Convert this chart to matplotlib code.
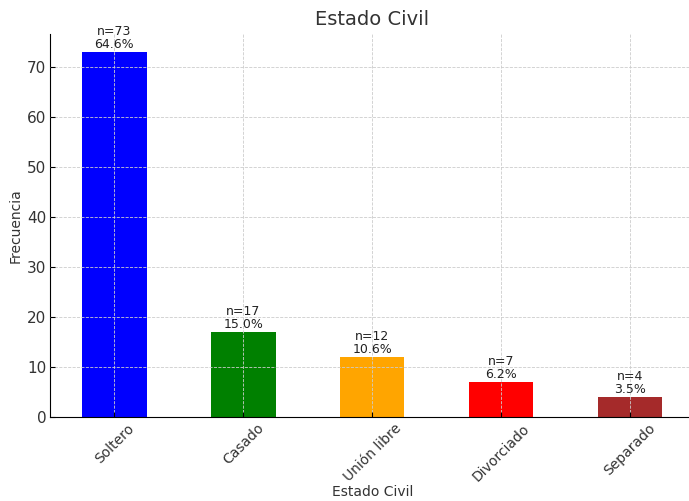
import matplotlib
matplotlib.use("Agg")
import matplotlib.pyplot as plt
import numpy as np

categorias = ['Soltero', 'Casado', 'Unión libre', 'Divorciado', 'Separado']
frecuencias = [73, 17, 12, 7, 4]
porcentajes = [64.6, 15.0, 10.6, 6.2, 3.5]
colores = ['blue', 'green', 'orange', 'red', 'brown']

fig = plt.figure(figsize=(6.89, 5.01), dpi=100)
ax = fig.add_axes([0.0725, 0.1677, 0.9355, 0.7649])

x = np.arange(len(categorias))
ax.bar(x, frecuencias, width=0.5, color=colores, zorder=2)
ax.set_xlim(-0.5, len(categorias) - 0.5)
ax.set_ylim(0, max(frecuencias) * 1.05)

for xi, n, p in zip(x, frecuencias, porcentajes):
    ax.text(xi, n + 0.2, f"n={n}\n{p:.1f}%", ha='center', va='bottom',
            fontsize=9, color='#222222', linespacing=1.0)

ax.set_xticks(x)
ax.set_xticklabels(categorias, rotation=45, fontsize=10, color='#333333')
ax.tick_params(direction='in', length=3.5)
ax.tick_params(axis='x', pad=3)
ax.tick_params(axis='y', labelsize=11, labelcolor='#333333', pad=2.5)
ax.set_title('Estado Civil', fontsize=14, color='#333333')
ax.set_xlabel('Estado Civil', fontsize=10, color='#333333', labelpad=1)
ax.set_ylabel('Frecuencia', fontsize=10, color='#333333', labelpad=3)
ax.grid(True, linestyle='--', color='#cccccc', linewidth=0.6, zorder=0)
ax.spines['top'].set_visible(False)
ax.spines['right'].set_visible(False)
ax.set_axisbelow(False)

fig.savefig('out.png', dpi=100)
